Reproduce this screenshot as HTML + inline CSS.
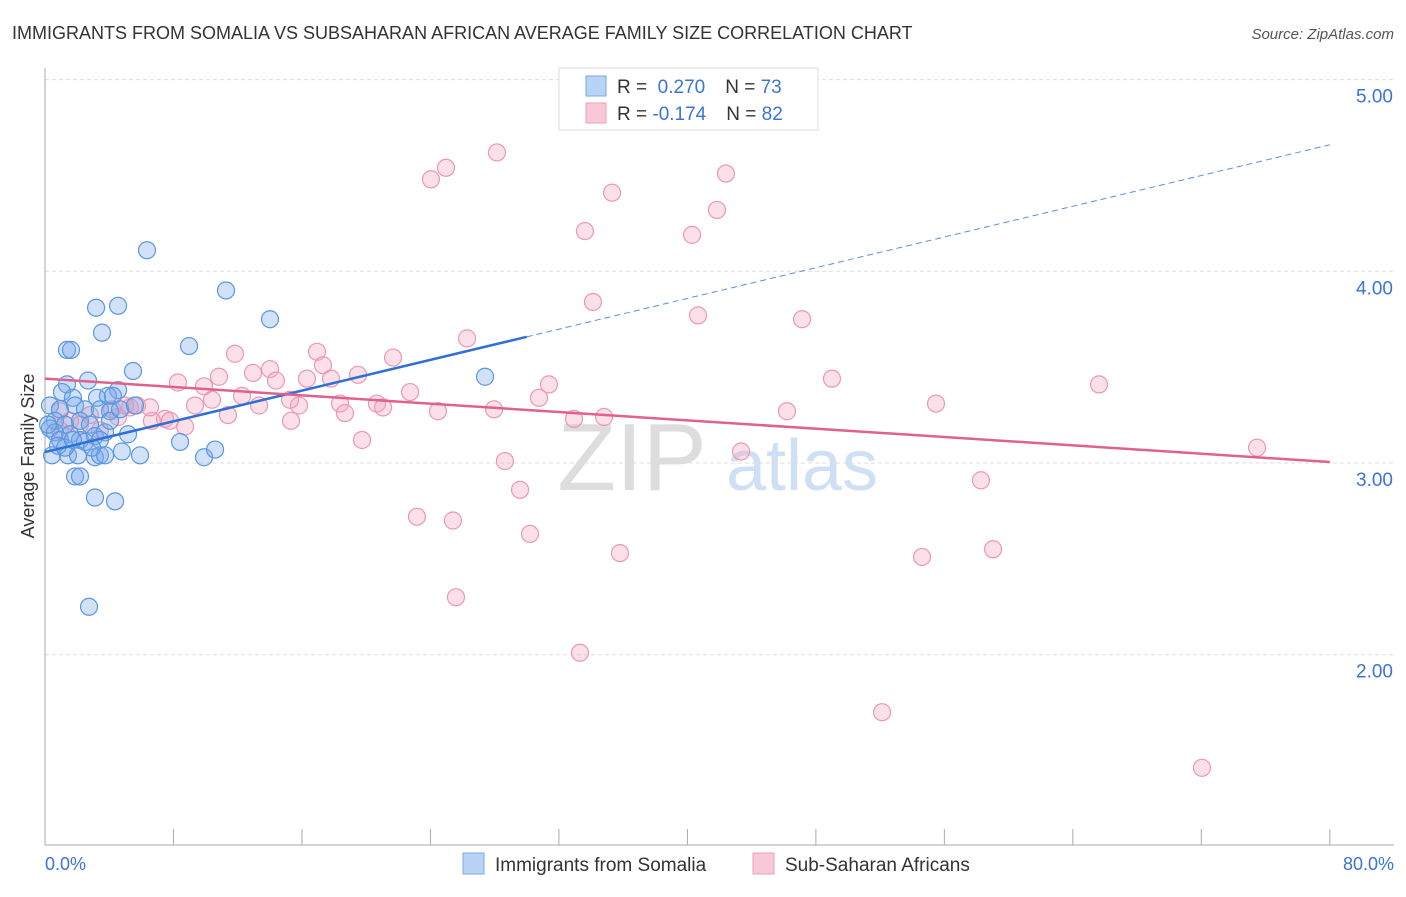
<!DOCTYPE html>
<html><head><meta charset="utf-8"><style>
body{margin:0;background:#fff;font-family:"Liberation Sans",sans-serif}
svg text{font-family:"Liberation Sans",sans-serif}
</style></head><body>
<svg id="chart" width="1406" height="892" viewBox="0 0 1406 892" xmlns="http://www.w3.org/2000/svg">
<text x="12" y="39" font-size="18" fill="#333">IMMIGRANTS FROM SOMALIA VS SUBSAHARAN AFRICAN AVERAGE FAMILY SIZE CORRELATION CHART</text>
<text x="1394" y="39" font-size="15" fill="#555" font-style="italic" text-anchor="end">Source: ZipAtlas.com</text>
<g>
<text x="632" y="490" font-size="96" fill="#ddd" text-anchor="middle" font-family="Liberation Serif">ZIP</text>
<text x="802" y="490" font-size="72" fill="#cfe0f4" text-anchor="middle">atlas</text>
</g>
<g id="grid"></g>
<g id="axes"></g>
<g id="pts"></g>
<g id="lines"></g>
<text transform="translate(34,456) rotate(-90)" font-size="18" fill="#333" text-anchor="middle">Average Family Size</text>
<text x="45" y="870" font-size="18" fill="#3b74d6">0.0%</text>
<text x="1394" y="870" font-size="18" fill="#3b74d6" text-anchor="end">80.0%</text>
<g>
<rect x="559" y="68" width="259" height="62" fill="#fff" stroke="#ddd"/>
<rect x="586" y="76" width="20" height="20" fill="#b8d3f4" stroke="#7aa8e6"/>
<rect x="586" y="103" width="20" height="20" fill="#f9c8d6" stroke="#eba0b8"/>
<text x="617" y="93" font-size="19" fill="#333">R = <tspan fill="#3b74d6">&#160;0.270</tspan><tspan dx="20">N = </tspan><tspan fill="#3b74d6">73</tspan></text>
<text x="617" y="120" font-size="19" fill="#333">R = <tspan fill="#3b74d6">-0.174</tspan><tspan dx="20">N = </tspan><tspan fill="#3b74d6">82</tspan></text>
</g>
<g>
<rect x="463" y="853" width="21" height="21" fill="#b8d3f4" stroke="#7aa8e6"/>
<text x="495" y="871" font-size="19" fill="#333">Immigrants from Somalia</text>
<rect x="753" y="853" width="21" height="21" fill="#f9c8d6" stroke="#eba0b8"/>
<text x="785" y="871" font-size="19" fill="#333">Sub-Saharan Africans</text>
</g>
</svg>
<script>
const NS="http://www.w3.org/2000/svg";
const yTicks=[2,3,4,5];
const yTickLabels=["2.00","3.00","4.00","5.00"];
const xTicks=[0,8,16,24,32,40,48,56,64,72,80];
const somaliaX=[6.35,11.27,3.18,4.55,3.55,14.01,1.37,1.62,8.97,5.48,27.40,2.68,1.37,1.06,4.55,3.24,3.92,4.23,1.74,0.31,0.93,1.87,2.49,3.42,4.05,0.62,1.25,2.18,2.80,0.31,0.62,1.56,2.18,3.11,3.74,5.17,0.93,2.49,3.42,8.41,0.44,1.43,2.05,3.11,3.42,3.74,4.79,5.92,9.90,10.59,1.87,2.18,3.11,4.36,2.74,0.19,0.81,1.25,4.05,4.67,5.60,1.74,2.93];
const somaliaY=[4.11,3.90,3.81,3.82,3.68,3.75,3.59,3.59,3.61,3.48,3.45,3.43,3.41,3.37,3.38,3.34,3.35,3.35,3.34,3.30,3.28,3.30,3.28,3.28,3.27,3.22,3.20,3.22,3.20,3.18,3.16,3.15,3.12,3.14,3.16,3.15,3.12,3.11,3.12,3.11,3.04,3.04,3.04,3.03,3.04,3.04,3.06,3.04,3.03,3.07,2.93,2.93,2.82,2.80,2.25,3.20,3.09,3.08,3.22,3.28,3.30,3.12,3.08];
const subX=[28.14,24.97,24.03,42.40,35.31,41.84,33.62,40.29,34.12,40.66,47.14,26.28,11.83,16.94,21.67,14.01,17.31,10.83,12.95,17.81,19.49,49.00,65.63,8.28,9.90,14.38,16.31,31.38,22.73,10.40,30.76,55.48,5.73,9.34,15.82,13.33,18.37,20.67,21.05,27.96,24.47,46.20,34.81,32.94,11.39,15.32,18.68,7.47,6.66,4.55,8.72,5.29,6.54,2.80,19.74,43.34,75.47,28.64,58.28,29.58,23.16,25.40,30.20,35.80,54.61,59.03,25.59,33.31,52.12,72.04,1.56,2.18,3.42,0.93,4.17,0.93,4.98,12.27,15.26,7.78];
const subY=[4.62,4.54,4.48,4.51,4.41,4.32,4.21,4.19,3.84,3.77,3.75,3.65,3.57,3.58,3.55,3.49,3.51,3.45,3.47,3.44,3.46,3.44,3.41,3.42,3.40,3.43,3.44,3.41,3.37,3.33,3.34,3.31,3.30,3.30,3.30,3.30,3.31,3.31,3.29,3.28,3.27,3.27,3.24,3.23,3.25,3.22,3.26,3.23,3.22,3.24,3.19,3.29,3.29,3.25,3.12,3.06,3.08,3.01,2.91,2.86,2.72,2.70,2.63,2.53,2.51,2.55,2.30,2.01,1.70,1.41,3.22,3.20,3.17,3.17,3.28,3.27,3.30,3.35,3.33,3.22];
const somaliaTrend=[3.057,4.66];
const somaliaSolidEnd=30;
const subTrend=[3.44,3.005];
const X=p=>45+p*16.06;
const Y=v=>463-(v-3)*191.7;
function mk(tag,attrs,parent){const e=document.createElementNS(NS,tag);for(const k in attrs)e.setAttribute(k,attrs[k]);parent.appendChild(e);return e;}
const grid=document.getElementById('grid'),axes=document.getElementById('axes'),pts=document.getElementById('pts'),lines=document.getElementById('lines');
yTicks.forEach((t,i)=>{
 const l=mk('line',{x1:45,x2:1394,y1:Y(t),y2:Y(t),stroke:'#ddd','stroke-dasharray':'4,3'},grid);
 
 
 const tx=mk('text',{x:1393,y:Y(t)+23,'font-size':19,fill:'#3b74d6','text-anchor':'end'},grid);
 tx.textContent=yTickLabels[i];
 
 
});
const ya=mk('line',{x1:45,x2:45,y1:68,y2:845,stroke:'#aaa'},axes);


const xa=mk('line',{x1:45,x2:1394,y1:845,y2:845,stroke:'#aaa'},axes);


xTicks.forEach(t=>{
 const l=mk('line',{x1:X(t),x2:X(t),y1:829,y2:845,stroke:'#aaa'},axes);
 
 
});
subX.forEach((x,i)=>{
 const c=mk('circle',{cx:X(x),cy:Y(subY[i]),r:8.5,fill:'rgba(244,167,192,0.35)',stroke:'#eb98b3','stroke-width':1.2},pts);
 
 
});
somaliaX.forEach((x,i)=>{
 const c=mk('circle',{cx:X(x),cy:Y(somaliaY[i]),r:8.5,fill:'rgba(120,170,235,0.35)',stroke:'#5b97e0','stroke-width':1.2},pts);
 
 
});
const sv=p=>somaliaTrend[0]+(somaliaTrend[1]-somaliaTrend[0])*p/80;
const l1=mk('line',{x1:X(0),y1:Y(sv(0)),x2:X(somaliaSolidEnd),y2:Y(sv(somaliaSolidEnd)),stroke:'#2f6fd6','stroke-width':2.5},lines);


const l2=mk('line',{x1:X(somaliaSolidEnd),y1:Y(sv(somaliaSolidEnd)),x2:X(80),y2:Y(sv(80)),stroke:'#5b8fdc','stroke-width':1,'stroke-dasharray':'6,4'},lines);


const l3=mk('line',{x1:X(0),y1:Y(subTrend[0]),x2:X(80),y2:Y(subTrend[1]),stroke:'#e0628c','stroke-width':2.5},lines);


</script>
</body></html>
